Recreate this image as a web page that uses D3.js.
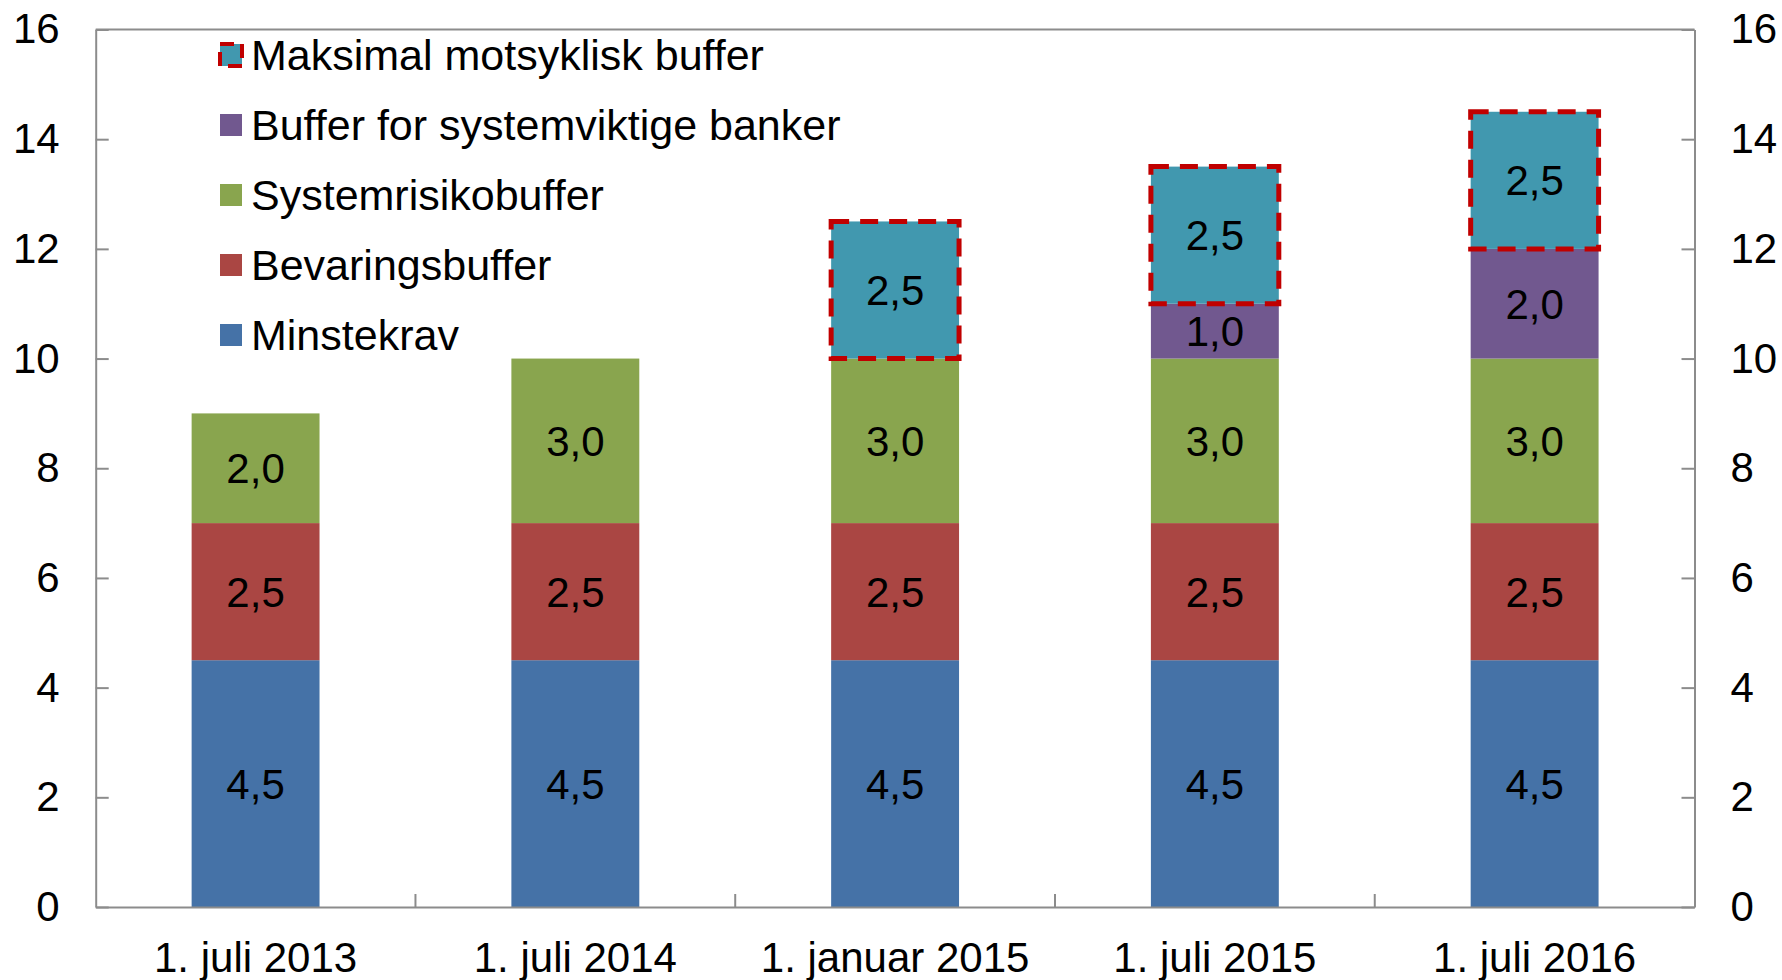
<!DOCTYPE html>
<html>
<head>
<meta charset="utf-8">
<script src="https://cdn.jsdelivr.net/npm/d3@7"></script>
<style>
  html, body { margin: 0; padding: 0; background: #fff; }
  svg text { font-family: "Liberation Sans", Arial, sans-serif; fill: #000; }
</style>
</head>
<body>
<svg id="chart" width="1782" height="980"></svg>
<script>
// ---- Data ----
const categories = ["1. juli 2013", "1. juli 2014", "1. januar 2015", "1. juli 2015", "1. juli 2016"];
const seriesNames = ["Minstekrav", "Bevaringsbuffer", "Systemrisikobuffer", "Buffer for systemviktige banker", "Maksimal motsyklisk buffer"];
const minstekrav       = [4.5, 4.5, 4.5, 4.5, 4.5];
const bevaringsbuffer  = [2.5, 2.5, 2.5, 2.5, 2.5];
const systemrisiko     = [2.0, 3.0, 3.0, 3.0, 3.0];
const systemviktige    = [0, 0, 0, 1.0, 2.0];
const motsyklisk       = [0, 0, 2.5, 2.5, 2.5];
const yTicks = [0, 2, 4, 6, 8, 10, 12, 14, 16];
const legendOrder = ["Maksimal motsyklisk buffer", "Buffer for systemviktige banker", "Systemrisikobuffer", "Bevaringsbuffer", "Minstekrav"];

const colors = {
  "Minstekrav": "#4572A7",
  "Bevaringsbuffer": "#AA4643",
  "Systemrisikobuffer": "#89A54E",
  "Buffer for systemviktige banker": "#71588F",
  "Maksimal motsyklisk buffer": "#4198AF"
};
const dashColor = "#C00000";
const axisColor = "#8C8C8C";
const fontSize = 42;
const legendFontSize = 43;

// ---- Build table ----
const valuesBySeries = [minstekrav, bevaringsbuffer, systemrisiko, systemviktige, motsyklisk];
const table = categories.map((c, i) => {
  const row = { cat: c };
  seriesNames.forEach((s, j) => row[s] = valuesBySeries[j][i]);
  return row;
});
const stacked = d3.stack().keys(seriesNames)(table);

// ---- Layout ----
const margin = { left: 95.7, right: 1782 - 1694.5, top: 29.5, bottom: 980 - 907 };
const width = 1782 - margin.left - margin.right;
const height = 980 - margin.top - margin.bottom;

const svg = d3.select("#chart");
const g = svg.append("g").attr("transform", `translate(${margin.left},${margin.top})`);

const x = d3.scaleBand().domain(categories).range([0, width]).paddingInner(0.6).paddingOuter(0.3);
const y = d3.scaleLinear().domain([0, 16]).range([height, 0]);

// ---- Bars ----
const layers = g.selectAll(".layer").data(stacked).enter().append("g")
  .attr("class", "layer")
  .attr("fill", d => colors[d.key]);

layers.selectAll("rect").data(d => d.map(p => ({ key: d.key, p })).filter(o => o.p[1] - o.p[0] > 0))
  .enter().append("rect")
  .attr("x", o => x(o.p.data.cat))
  .attr("width", x.bandwidth())
  .attr("y", o => y(o.p[1]))
  .attr("height", o => y(o.p[0]) - y(o.p[1]));

// Dashed outline for motsyklisk buffer
const mot = stacked.find(s => s.key === "Maksimal motsyklisk buffer");
g.selectAll(".dash").data(mot.filter(p => p[1] - p[0] > 0)).enter().append("rect")
  .attr("class", "dash")
  .attr("x", p => x(p.data.cat))
  .attr("width", x.bandwidth())
  .attr("y", p => y(p[1]))
  .attr("height", p => y(p[0]) - y(p[1]))
  .attr("fill", "none")
  .attr("stroke", dashColor)
  .attr("stroke-width", 5)
  .attr("stroke-dasharray", "18,11");

// Value labels
const fmt = v => d3.format(".1f")(v).replace(".", ",");
stacked.forEach(s => {
  g.selectAll(null).data(s.filter(p => p[1] - p[0] > 0)).enter().append("text")
    .attr("x", p => x(p.data.cat) + x.bandwidth() / 2)
    .attr("y", p => (y(p[0]) + y(p[1])) / 2)
    .attr("text-anchor", "middle")
    .attr("dy", "0.36em")
    .style("font-size", fontSize + "px")
    .text(p => fmt(p[1] - p[0]));
});

// ---- Axes ----
g.append("line").attr("x1", 0).attr("x2", width).attr("y1", 0).attr("y2", 0)
  .attr("stroke", axisColor).attr("stroke-width", 2);

const yLeft = g.append("g").call(d3.axisLeft(y).tickValues(yTicks).tickFormat(d3.format("d"))
  .tickSizeInner(-13).tickSizeOuter(0).tickPadding(36));
const yRight = g.append("g").attr("transform", `translate(${width},0)`)
  .call(d3.axisRight(y).tickValues(yTicks).tickFormat(d3.format("d"))
  .tickSizeInner(-13).tickSizeOuter(0).tickPadding(36));

const xAxis = g.append("g").attr("transform", `translate(0,${height})`)
  .call(d3.axisBottom(x).tickSize(0).tickPadding(35));

const boundaries = categories.slice(0, -1).map(c => x(c) + x.bandwidth() + (x.step() - x.bandwidth()) / 2);
xAxis.selectAll(".btick").data(boundaries).enter().append("line")
  .attr("class", "btick")
  .attr("x1", d => d).attr("x2", d => d)
  .attr("y1", 0).attr("y2", -13)
  .attr("stroke", axisColor).attr("stroke-width", 2);

[yLeft, yRight, xAxis].forEach(a => {
  a.selectAll("path.domain").attr("stroke", axisColor).attr("stroke-width", 2);
  a.selectAll(".tick line").attr("stroke", axisColor).attr("stroke-width", 2);
  a.selectAll("text").style("font-size", fontSize + "px")
    .style("font-family", '"Liberation Sans", Arial, sans-serif').attr("fill", "#000");
});

// ---- Legend ----
const legend = svg.append("g").attr("transform", "translate(220,55)");
const items = legend.selectAll(".item").data(legendOrder).enter().append("g")
  .attr("class", "item")
  .attr("transform", (d, i) => `translate(0,${i * 70})`);
items.append("rect")
  .attr("x", 0).attr("y", -11).attr("width", 22).attr("height", 22)
  .attr("fill", d => colors[d])
  .attr("stroke", d => d === "Maksimal motsyklisk buffer" ? dashColor : "none")
  .attr("stroke-width", 4)
  .attr("stroke-dasharray", d => d === "Maksimal motsyklisk buffer" ? "14,8" : null);
items.append("text")
  .attr("x", 31).attr("y", 0).attr("dy", "0.36em")
  .style("font-size", legendFontSize + "px")
  .text(d => d);
</script>
</body>
</html>
